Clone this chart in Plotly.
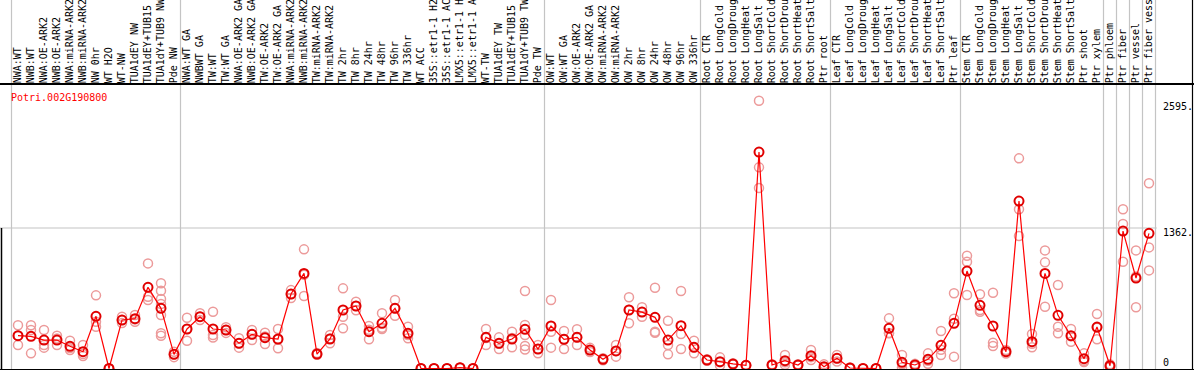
import plotly.graph_objects as go

# ---------------- data ----------------
categories = [
    "NWA:WT", "NWB:WT", "NWA:OE-ARK2", "NWB:OE-ARK2", "NWA:miRNA-ARK2", "NWB:miRNA-ARK2",
    "NW 0hr", "WT H2O", "WT-NW", "TUA1dEY NW", "TUA1dEY+TUB15", "TUA1dY+TUB9 NW", "Pde NW",
    "NWA:WT GA", "NWBWT GA", "TW:WT", "TW:WT GA", "NWA:OE-ARK2 GA", "NWB:OE-ARK2 GA",
    "TW:OE-ARK2", "TW:OE-ARK2 GA", "NWA:miRNA-ARK2", "NWB:miRNA-ARK2", "TW:miRNA-ARK2",
    "TW:miRNA-ARK2", "TW 2hr", "TW 8hr", "TW 24hr", "TW 48hr", "TW 96hr", "TW 336hr", "WT ACC",
    "35S::etr1-1 H2", "35S::etr1-1 AC", "LMX5::etr1-1 H", "LMX5::etr1-1 A", "WT-TW",
    "TUA1dEY TW", "TUA1dEY+TUB15", "TUA1dY+TUB9 TW", "Pde TW",
    "OW:WT", "OW:WT GA", "OW:OE-ARK2", "OW:OE-ARK2 GA", "OW:miRNA-ARK2", "OW:miRNA-ARK2",
    "OW 2hr", "OW 8hr", "OW 24hr", "OW 48hr", "OW 96hr", "OW 336hr",
    "Root CTR", "Root LongCold", "Root LongDroug", "Root LongHeat", "Root LongSalt",
    "Root ShortCold", "Root ShortDrou", "Root ShortHeat", "Root ShortSalt", "Ptr root",
    "Leaf CTR", "Leaf LongCold", "Leaf LongDroug", "Leaf LongHeat", "Leaf LongSalt",
    "Leaf ShortCold", "Leaf ShortDrou", "Leaf ShortHeat", "Leaf ShortSalt", "Ptr leaf",
    "Stem CTR", "Stem LongCold", "Stem LongDroug", "Stem LongHeat", "Stem LongSalt",
    "Stem ShortCold", "Stem ShortDrou", "Stem ShortHeat", "Stem ShortSalt", "Ptr shoot",
    "Ptr xylem", "Ptr phloem", "Ptr fiber", "Ptr vessel", "Ptr fiber vess",
]

mean_values = [
    318, 312, 276, 276, 215, 163, 506, 0, 470, 483, 787, 583, 137,
    383, 502, 383, 373, 244, 331, 299, 286, 722, 922, 140, 286, 567, 606, 357, 438, 583, 341,
    0, 0, 0, 8, 0, 302, 244, 286, 380, 189,
    412, 283, 302, 179, 89, 170, 567, 547, 496, 276, 415, 205,
    82, 66, 44, 31, 2098, 34, 76, 34, 124, 18,
    99, 5, 0, 0, 390, 60, 34, 89, 225, 438,
    945, 612, 412, 163, 1623, 260, 922, 515, 318, 95, 402, 27, 1332, 877, 1310,
]

replicate_values = [
    [419, 318, 228], [419, 373, 147], [373, 228, 202], [318, 290, 228], [269, 198, 179],
    [228, 140, 121], [709, 454, 405], [0, 0, 0], [502, 470, 440], [518, 476, 454],
    [1019, 696, 664], [826, 754, 673, 625, 518, 341, 318], [163, 137, 110],
    [492, 383, 269], [535, 502, 470], [550, 325, 300], [400, 373, 345], [293, 244, 202],
    [373, 331, 276], [347, 310, 237], [383, 280, 196], [760, 722, 684], [1155, 908, 703],
    [150, 137, 133], [325, 290, 244], [777, 502, 390], [647, 606, 565], [412, 376, 283],
    [535, 395, 383], [664, 583, 512], [405, 325, 293], [0, 0, 0], [0, 0, 0], [0, 0, 0],
    [8, 8, 8], [0, 0, 0], [383, 295, 228], [302, 240, 189], [357, 295, 205],
    [751, 421, 325, 218, 185], [228, 189, 147],
    [664, 357, 202], [363, 283, 189], [380, 302, 228], [200, 179, 160], [100, 89, 80],
    [228, 170, 115], [690, 570, 438], [593, 547, 502], [783, 357, 347], [463, 228, 137],
    [751, 334, 189], [269, 205, 147],
    [90, 82, 75], [108, 60, 30], [50, 44, 38], [35, 31, 27], [2595, 1950, 1750],
    [40, 34, 28], [131, 60, 37], [40, 34, 28], [179, 110, 83], [40, 10, 4],
    [131, 99, 67], [10, 5, 0], [0, 0, 0], [0, 0, 0], [486, 341, 343], [131, 40, 10],
    [45, 34, 23], [147, 75, 45], [363, 181, 131], [729, 483, 115],
    [1093, 1035, 712], [719, 567, 550], [735, 250, 218], [180, 163, 146], [2037, 1543, 1284],
    [334, 240, 205], [1145, 1029, 599], [809, 405, 341], [383, 312, 260], [147, 75, 63],
    [528, 396, 283], [40, 27, 14], [1543, 1400, 1035], [1145, 893, 593], [1795, 1174, 951],
]

group_boundaries = [-0.5, 12.5, 40.5, 52.5, 62.5, 72.5, 83.5, 84.5, 85.5, 86.5, 87.5]
axis_label_values = [2595, 1362, 0]
axis_label_texts = ["2595.", "1362.", "0"]
gene_name = "Potri.002G190800"

# ---------------- figure ----------------
W, H = 1194, 370
TOP, BOT = 85, 1
x_idx = list(range(len(categories)))

rep_x, rep_y = [], []
for i, reps in enumerate(replicate_values):
    for v in reps:
        rep_x.append(i)
        rep_y.append(v)

mono = "DejaVu Sans Mono"
fig = go.Figure()
fig.add_trace(go.Scatter(
    x=rep_x, y=rep_y, mode="markers",
    marker=dict(symbol="circle-open", size=9, color="#EC9A9A", line=dict(width=1.5, color="#EC9A9A")),
    hoverinfo="skip", showlegend=False,
))
fig.add_trace(go.Scatter(
    x=x_idx, y=mean_values, mode="lines+markers",
    line=dict(color="#FF0000", width=1.2),
    marker=dict(symbol="circle-open", size=9, color="#E00000", line=dict(width=2, color="#E00000")),
    showlegend=False,
))

# pixel geometry: index 0 at x=18 px, 13 px per category
x0 = -18 / 13
x1 = (W - 18) / 13
plot_h = H - TOP - BOT
y_zero_px = 368.5
px_per_unit = (368.5 - 228) / 1362
ymin = -(H - BOT - y_zero_px) / px_per_unit
ymax = ymin + plot_h / px_per_unit

shapes = []
ytop_paper = 1 + TOP / plot_h
for b in group_boundaries:
    shapes.append(dict(type="line", xref="x", yref="paper", x0=b, x1=b, y0=0, y1=ytop_paper,
                       line=dict(color="#C4C4C4", width=1.2), layer="below"))
shapes.append(dict(type="line", xref="x", yref="y", x0=x0, x1=87.6, y0=1362, y1=1362,
                   line=dict(color="#C4C4C4", width=1.2), layer="below"))
shapes.append(dict(type="line", xref="paper", yref="y", x0=1.5 / W, x1=1.5 / W, y0=ymin, y1=1362,
                   line=dict(color="black", width=1.5)))
shapes.append(dict(type="line", xref="paper", yref="paper", x0=1192.5 / W, x1=1192.5 / W, y0=0, y1=ytop_paper,
                   line=dict(color="black", width=1.2)))

annotations = [dict(text=gene_name, xref="paper", yref="paper", x=9 / W, y=(H - BOT - 97) / plot_h,
                    xanchor="left", yanchor="middle", showarrow=False,
                    font=dict(family=mono, size=10, color="red"))]
label_shifts = [-6, -4, 6]
for v, t, s in zip(axis_label_values, axis_label_texts, label_shifts):
    annotations.append(dict(text=t, xref="paper", yref="y", x=1161 / W, y=v, yshift=s,
                            xanchor="left", yanchor="middle", showarrow=False,
                            font=dict(family=mono, size=10, color="black")))

fig.update_layout(
    template="none",
    width=W, height=H,
    margin=dict(l=0, r=0, t=TOP, b=BOT, pad=0),
    paper_bgcolor="white", plot_bgcolor="white",
    shapes=shapes, annotations=annotations,
    xaxis=dict(range=[x0, x1], side="top", tickmode="array", tickvals=x_idx, ticktext=categories,
               tickangle=-90, tickfont=dict(family=mono, size=10, color="black"),
               ticks="", ticklabelstandoff=-2, showgrid=False, zeroline=False, showline=True,
               linecolor="black", linewidth=1.5, mirror=True, automargin=False, fixedrange=True),
    yaxis=dict(range=[ymin, ymax], visible=False, showgrid=False, zeroline=False,
               automargin=False, fixedrange=True),
)

fig.write_html("out.html", config={"displayModeBar": False},
               post_script="document.body.style.margin='0';document.body.style.overflow='hidden';")
